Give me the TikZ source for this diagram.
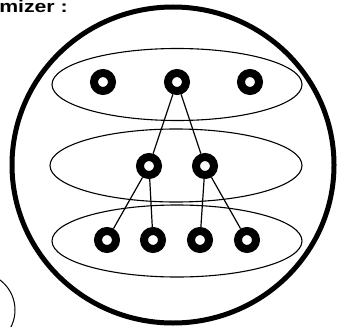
\documentclass[tikz,border=0pt]{standalone}
\usepackage{fontspec}
\setmainfont{Liberation Sans}
\begin{document}
\begin{tikzpicture}[x=1pt,y=-1pt,
  ringnode/.style={circle,draw=black,line width=8pt,minimum size=18pt,inner sep=0pt},
  layer/.style={draw=black,line width=1.1pt},
  link/.style={draw=black,line width=1.2pt},
  outer/.style={draw=black,line width=5pt}]
\useasboundingbox (0,0) rectangle (339,326);
\clip (0,0) rectangle (339,326);
% title
\node[anchor=base west,inner sep=0pt,xscale=1.25,font=\fontsize{17}{20}\selectfont\bfseries] (title) at (-1,13) {mizer :};
% big circle
\draw[outer] (173,165) ellipse [x radius=161, y radius=158];
% small partial circle
\draw[line width=1pt] (-22.5,310) circle [radius=37.5];
% layers
\draw[layer] (177,84.5) ellipse [x radius=125, y radius=36];
\draw[layer] (176,165.5) ellipse [x radius=126, y radius=36.5];
\draw[layer] (177,241) ellipse [x radius=125, y radius=36];
% nodes
\node[ringnode] (t1) at (103,82) {};
\node[ringnode] (t2) at (177,82) {};
\node[ringnode] (t3) at (250,82) {};
\node[ringnode] (m1) at (149,166) {};
\node[ringnode] (m2) at (205,166) {};
\node[ringnode] (b1) at (107,240) {};
\node[ringnode] (b2) at (153,240) {};
\node[ringnode] (b3) at (200,240) {};
\node[ringnode] (b4) at (247,240) {};
% links
\draw[link] (t2) -- (m1);
\draw[link] (t2) -- (m2);
\draw[link] (m1) -- (b1);
\draw[link] (m1) -- (b2);
\draw[link] (m2) -- (b3);
\draw[link] (m2) -- (b4);
\end{tikzpicture}
\end{document}
